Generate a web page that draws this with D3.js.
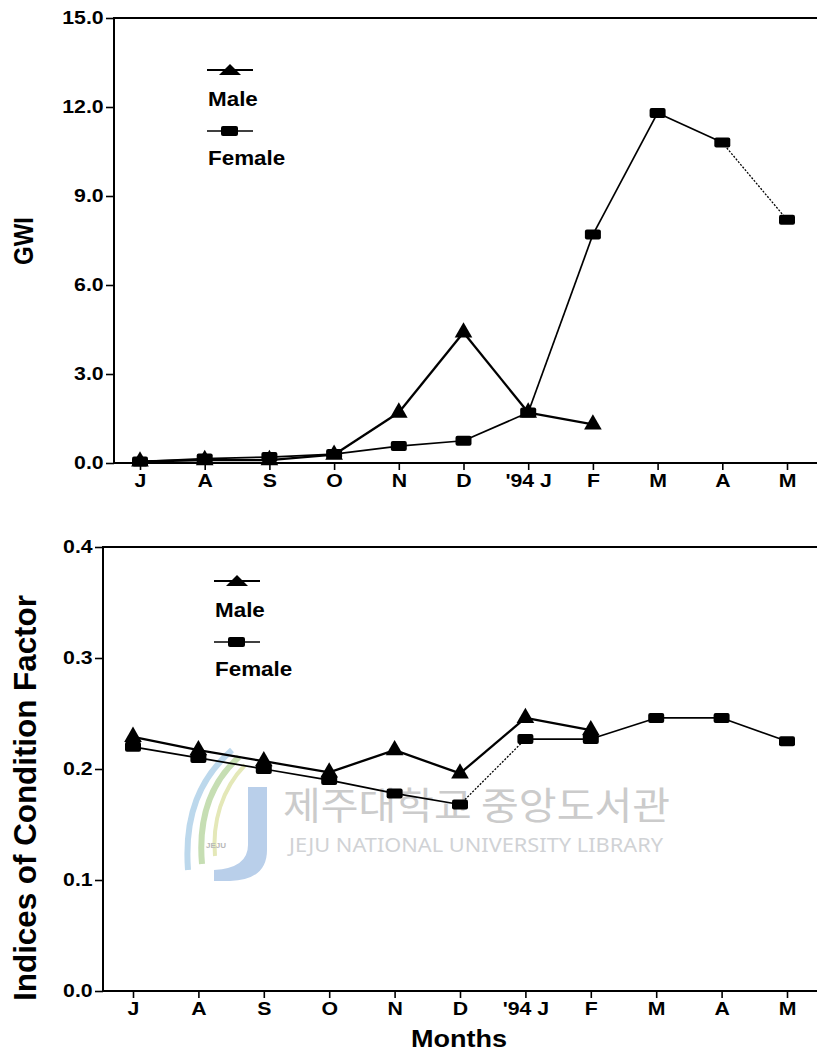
<!DOCTYPE html>
<html>
<head>
<meta charset="utf-8">
<script src="https://cdn.jsdelivr.net/npm/d3@7"></script>
<style>
  body { margin: 0; background: #fff; }
  svg { display: block; }
  .lbl { font-family: "Liberation Sans", Arial, sans-serif; font-weight: bold; fill: #000; }
</style>
</head>
<body>
<div id="chart"></div>
<script>
// months, June 1993 to May 1994
const monthLabels = ["J", "A", "S", "O", "N", "D", "'94 J", "F", "M", "A", "M"]

// GWI panel
const gwiTicks = [0, 3, 6, 9, 12, 15]
const gwiMale = [0.05, 0.1, 0.1, 0.28, 1.7, 4.4, 1.7, 1.3]
const gwiFemale = [0.05, 0.15, 0.2, 0.3, 0.57, 0.75, 1.7, 7.7, 11.8, 10.8, 8.2]

// condition factor panel
const cfTicks = [0, 0.1, 0.2, 0.3, 0.4]
const cfMale = [0.229, 0.217, 0.207, 0.197, 0.217, 0.196, 0.246, 0.235]
const cfFemale = [0.22, 0.21, 0.2, 0.19, 0.178, 0.168, 0.227, 0.227, 0.246, 0.246, 0.225]

const W = 817, H = 1059
const SX = 1.15 // the scan is a bit wider than the type

const svg = d3.select("#chart").append("svg")
  .attr("width", W)
  .attr("height", H)

// library watermark (behind the chart)
function drawWatermark() {
  let wm = svg.append("g")
  wm.append("path")
    .attr("d", "M232,750 C200,778 184,815 188,870")
    .attr("fill", "none").attr("stroke", "#bcd8ec").attr("stroke-width", 6)
  wm.append("path")
    .attr("d", "M239,757 C210,783 198,818 202,864")
    .attr("fill", "none").attr("stroke", "#c6deb3").attr("stroke-width", 6)
  wm.append("path")
    .attr("d", "M245,765 C222,789 212,822 215,856")
    .attr("fill", "none").attr("stroke", "#e4e8b8").attr("stroke-width", 4)
  wm.append("path")
    .attr("d", "M248,787 H267 V850 Q267,880 230,881 H214 V870 Q248,868 248,845 Z")
    .attr("fill", "#b9cfea")
  wm.append("text")
    .attr("x", 216).attr("y", 848)
    .attr("text-anchor", "middle")
    .attr("font-family", "Liberation Sans, Arial, sans-serif")
    .attr("font-size", 8).attr("font-weight", "bold")
    .attr("fill", "#b8b8b8")
    .text("JEJU")
  wm.append("text")
    .attr("x", 283).attr("y", 819)
    .attr("font-family", "Noto Sans CJK KR, sans-serif")
    .attr("font-size", 38)
    .attr("textLength", 387).attr("lengthAdjust", "spacingAndGlyphs")
    .attr("fill", "#cbcbcb")
    .text("제주대학교 중앙도서관")
  wm.append("text")
    .attr("x", 289).attr("y", 852)
    .attr("font-family", "Noto Sans, sans-serif")
    .attr("font-size", 19)
    .attr("textLength", 374).attr("lengthAdjust", "spacingAndGlyphs")
    .attr("fill", "#d0d2d5")
    .text("JEJU NATIONAL UNIVERSITY  LIBRARY")
}

function triangle(size) {
  return d3.symbol().type(d3.symbolTriangle).size(size)()
}

function drawPanel(p) {
  let x = d3.scalePoint()
    .domain(d3.range(monthLabels.length))
    .range([p.x0, p.x1])
  let y = d3.scaleLinear()
    .domain(d3.extent(p.ticks))
    .range([p.yBottom, p.yTop])

  let g = svg.append("g")

  // frame: left, top and bottom lines, open on the right
  g.append("path")
    .attr("d", "M" + W + "," + y(p.ticks[p.ticks.length - 1]) + "H" + p.left +
      "V" + y(p.ticks[0]) + "H" + W)
    .attr("fill", "none")
    .attr("stroke", "#000")
    .attr("stroke-width", 2)

  // y axis
  let ya = g.append("g")
    .attr("transform", "translate(" + p.left + ",0)")
    .call(d3.axisLeft(y).tickValues(p.ticks).tickFormat(d3.format(".1f"))
      .tickSize(8).tickPadding(1).tickSizeOuter(0))
  ya.select(".domain").remove()
  ya.selectAll(".tick line").attr("stroke-width", 1.6)
  ya.selectAll(".tick text")
    .attr("class", "lbl")
    .attr("font-size", 18.5)
    .attr("font-family", null)
    .attr("transform", "scale(" + SX + ",1)")

  // x axis
  let xa = g.append("g")
    .attr("transform", "translate(0," + y(p.ticks[0]) + ")")
    .call(d3.axisBottom(x).tickFormat(i => monthLabels[i])
      .tickSize(7).tickPadding(p.xPad).tickSizeOuter(0))
  xa.select(".domain").remove()
  xa.selectAll(".tick line").attr("stroke-width", 1.6)
  xa.selectAll(".tick text")
    .attr("class", "lbl")
    .attr("font-size", 18.5)
    .attr("font-family", null)
    .attr("transform", "scale(" + SX + ",1)")

  // series lines, segment by segment so single legs can be dotted
  let series = [
    { values: p.male, width: 2.3, dotted: [] },
    { values: p.female, width: 1.7, dotted: p.femaleDotted }
  ]
  series.forEach(s => {
    let pts = s.values.map((v, i) => [x(i), y(v)])
    d3.pairs(pts).forEach((seg, i) => {
      let dot = s.dotted.includes(i)
      g.append("path")
        .attr("d", d3.line()(seg))
        .attr("fill", "none")
        .attr("stroke", "#000")
        .attr("stroke-width", dot ? 1.3 : s.width)
        .attr("stroke-dasharray", dot ? "2,1.5" : null)
    })
  })
  // squares first, triangles on top
  g.selectAll("rect.f")
    .data(p.female)
    .enter()
    .append("rect")
    .attr("x", (d, i) => x(i) - 8)
    .attr("y", d => y(d) - 5)
    .attr("width", 16)
    .attr("height", 10)
    .attr("rx", 2)
    .attr("fill", "#000")
  g.selectAll("path.m")
    .data(p.male)
    .enter()
    .append("path")
    .attr("class", "m")
    .attr("d", triangle(135))
    .attr("transform", (d, i) => "translate(" + x(i) + "," + y(d) + ")")
    .attr("fill", "#000")

  // legend
  let lg = g.append("g").attr("transform", "translate(" + p.legend[0] + "," + p.legend[1] + ")")
  lg.append("line").attr("x1", 0).attr("x2", 46).attr("y1", 0).attr("y2", 0)
    .attr("stroke", "#000").attr("stroke-width", 2)
  lg.append("path").attr("d", "M12,5 L23,-6 L34,5 Z").attr("fill", "#000")
  lg.append("text").attr("class", "lbl")
    .attr("transform", "translate(1,36) scale(" + SX + ",1)")
    .attr("font-size", 19.5)
    .text("Male")
  lg.append("line").attr("x1", 0).attr("x2", 46).attr("y1", 61).attr("y2", 61)
    .attr("stroke", "#000").attr("stroke-width", 1.3)
  lg.append("rect").attr("x", 14).attr("y", 56).attr("width", 17).attr("height", 10)
    .attr("rx", 2).attr("fill", "#000")
  lg.append("text").attr("class", "lbl")
    .attr("transform", "translate(1,95) scale(" + SX + ",1)")
    .attr("font-size", 19.5)
    .text("Female")

  // y title
  g.append("text").attr("class", "lbl")
    .attr("transform", "translate(" + p.titleX + "," + p.titleY + ") rotate(-90) scale(" +
      p.titleStretch + "," + SX + ")")
    .attr("text-anchor", "middle")
    .attr("font-size", p.titleSize)
    .text(p.title)
}

drawWatermark()

drawPanel({
  ticks: gwiTicks, male: gwiMale, female: gwiFemale, femaleDotted: [9],
  left: 114, x0: 140, x1: 787, yTop: 18, yBottom: 463, xPad: 4,
  legend: [207, 70],
  title: "GWI", titleX: 33, titleY: 241, titleSize: 24, titleStretch: 1
})

drawPanel({
  ticks: cfTicks, male: cfMale, female: cfFemale, femaleDotted: [5],
  left: 103, x0: 133, x1: 787, yTop: 547, yBottom: 991, xPad: 4,
  legend: [214, 581],
  title: "Indices of Condition Factor", titleX: 36, titleY: 798, titleSize: 28, titleStretch: 1.12
})

svg.append("text").attr("class", "lbl")
  .attr("transform", "translate(459,1047) scale(" + SX + ",1)")
  .attr("text-anchor", "middle")
  .attr("font-size", 23.5)
  .text("Months")
</script>
</body>
</html>
